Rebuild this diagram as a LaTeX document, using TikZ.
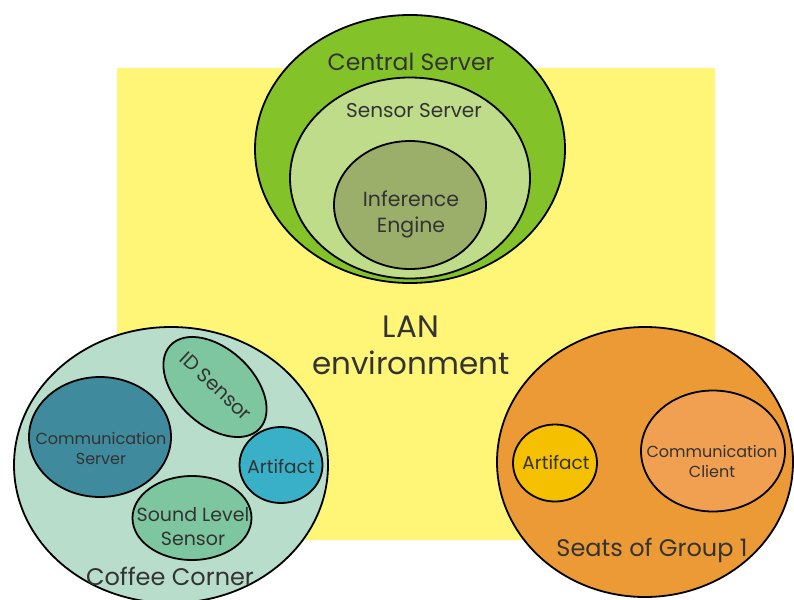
\documentclass[tikz,border=0pt]{standalone}
\usepackage{fontspec}
\setmainfont{Poppins}
\usetikzlibrary{shapes.geometric}
\definecolor{lanyellow}{HTML}{FFF677}
\definecolor{centralgreen}{HTML}{84C22A}
\definecolor{sensorgreen}{HTML}{BEDC8A}
\definecolor{enginegreen}{HTML}{9CAF6A}
\definecolor{coffeebg}{HTML}{B8DECB}
\definecolor{commserver}{HTML}{3F8A9C}
\definecolor{sensormint}{HTML}{7DC6A0}
\definecolor{artifactcyan}{HTML}{3AB0C8}
\definecolor{seatsorange}{HTML}{EC9A35}
\definecolor{artifactgold}{HTML}{F5C000}
\definecolor{clientorange}{HTML}{F0A050}
\definecolor{labelgrey}{HTML}{333333}
\tikzset{
  blob/.style={ellipse, draw=black, line width=1.8pt, inner sep=0pt},
  lbl/.style={text=labelgrey, inner sep=0pt, align=center}
}
\begin{document}
\begin{tikzpicture}[x=1pt,y=-1pt]
  \useasboundingbox (0,0) rectangle (794,599);
  % LAN backdrop
  \fill[lanyellow] (117,68) rectangle (715,540);
  \node[lbl, font=\fontsize{31}{37}\selectfont] (lan) at (411,345) {LAN\\environment};

  % Central server with nested parts
  \node[blob, fill=centralgreen, minimum width=310pt, minimum height=268pt] (central) at (410,149) {};
  \node[blob, fill=sensorgreen, minimum width=240pt, minimum height=201pt] (sensorsrv) at (410,178) {};
  \node[blob, fill=enginegreen, minimum width=152pt, minimum height=128pt] (engine) at (410,205) {};
  \node[lbl, font=\fontsize{23.5}{28}\selectfont] (centrallbl) at (411,62) {Central Server};
  \node[lbl, font=\fontsize{20}{24}\selectfont] (sensorlbl) at (414,111) {Sensor Server};
  \node[lbl, font=\fontsize{20.5}{26}\selectfont] (enginelbl) at (411,214) {Inference\\Engine};

  % Coffee corner
  \node[blob, fill=coffeebg, minimum width=314pt, minimum height=276pt] (coffee) at (171,465) {};
  \node[blob, fill=commserver, minimum width=142pt, minimum height=120pt] (commsrv) at (100,437) {};
  \node[blob, fill=sensormint, minimum width=122pt, minimum height=76pt, rotate=-43] (idsensor) at (215,387) {};
  \node[blob, fill=artifactcyan, minimum width=83pt, minimum height=76pt] (artifactA) at (281,465) {};
  \node[blob, fill=sensormint, minimum width=119pt, minimum height=84pt] (soundsensor) at (192,518) {};
  \node[lbl, font=\fontsize{16}{20}\selectfont] (commsrvlbl) at (101,448) {Communication\\Server};
  \node[lbl, rotate=-43, font=\fontsize{19.5}{24}\selectfont] (idlbl) at (216,386) {ID Sensor};
  \node[lbl, font=\fontsize{18.5}{22}\selectfont] (artifactAlbl) at (281,467) {Artifact};
  \node[lbl, font=\fontsize{19}{24}\selectfont] (soundlbl) at (193,527) {Sound Level\\Sensor};
  \node[lbl, font=\fontsize{24}{28}\selectfont] (coffeelbl) at (170,576) {Coffee Corner};

  % Seats of group 1
  \node[blob, fill=seatsorange, minimum width=296pt, minimum height=270pt] (seats) at (645,462) {};
  \node[blob, fill=artifactgold, minimum width=84pt, minimum height=77pt] (artifactB) at (555,463) {};
  \node[blob, fill=clientorange, minimum width=144pt, minimum height=121pt] (client) at (713,451) {};
  \node[lbl, font=\fontsize{18.5}{22}\selectfont] (artifactBlbl) at (556,463) {Artifact};
  \node[lbl, font=\fontsize{16}{20}\selectfont] (clientlbl) at (712,461) {Communication\\Client};
  \node[lbl, font=\fontsize{24}{28}\selectfont] (seatslbl) at (652,550) {Seats of Group 1};
\end{tikzpicture}
\end{document}
